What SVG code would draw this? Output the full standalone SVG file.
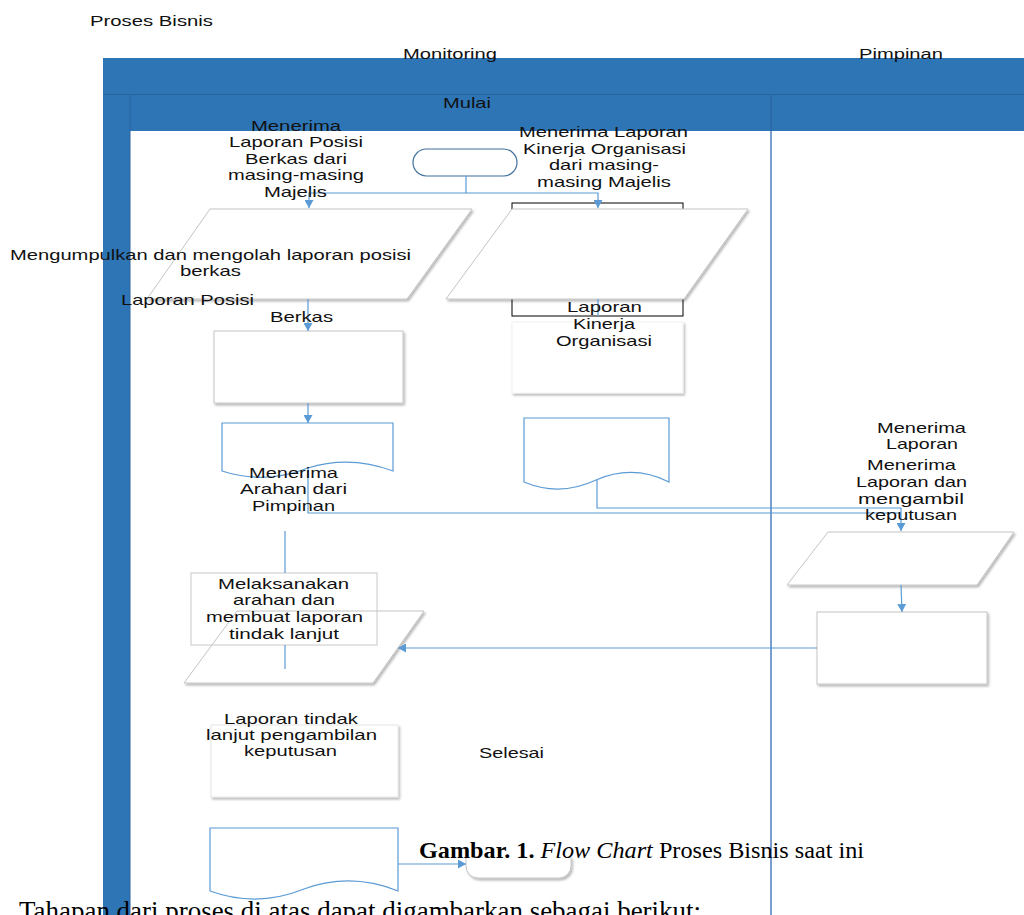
<svg xmlns="http://www.w3.org/2000/svg" width="1024" height="915" viewBox="0 0 1024 915">
<defs>
<style>
.t{font-family:"Liberation Sans",Arial,sans-serif;font-size:15px;fill:#111;}
.cap{font-family:"Liberation Serif","Times New Roman",serif;fill:#000;}
.g{fill:#fff;stroke:#c4c4c4;stroke-width:1;}
.doc{fill:#fff;stroke:#5B9BD5;stroke-width:1.2;}
.c{fill:none;stroke:#5B9BD5;stroke-width:1.2;}
.band{fill:#2E75B6;}
</style>
<filter id="sh" x="-10%" y="-10%" width="130%" height="130%">
<feDropShadow dx="1.5" dy="2" stdDeviation="1.2" flood-color="#000" flood-opacity="0.28"/>
</filter>
<marker id="arr" markerWidth="8" markerHeight="9" refX="8" refY="4.5" orient="auto" markerUnits="userSpaceOnUse">
<path d="M0,0 L8,4.5 L0,9 z" fill="#5B9BD5"/>
</marker>
</defs>
<rect width="1024" height="915" fill="#fff"/>

<g id="lanes">
<rect class="band" x="103" y="58" width="921" height="73"/>
<rect class="band" x="103" y="58" width="27" height="857"/>
<line x1="103" y1="94.5" x2="1024" y2="94.5" stroke="#2a65a0" stroke-width="1"/>
<line x1="130" y1="94.5" x2="130" y2="915" stroke="#2a65a0" stroke-width="1"/>
<line x1="771" y1="94.5" x2="771" y2="131" stroke="#2a65a0" stroke-width="1.2"/>
<line x1="771" y1="131" x2="771" y2="915" stroke="#4A7EBB" stroke-width="1.5"/>
<text class="t" x="90" y="25.5" textLength="123" lengthAdjust="spacingAndGlyphs">Proses Bisnis</text>
<text class="t" x="403" y="59" textLength="94" lengthAdjust="spacingAndGlyphs">Monitoring</text>
<text class="t" x="859" y="59" textLength="84" lengthAdjust="spacingAndGlyphs">Pimpinan</text>
</g>

<g id="start">
<rect x="413" y="149" width="104" height="27" rx="13.5" fill="#fff" stroke="#41719C" stroke-width="1.2"/>
<text class="t" x="443" y="108" textLength="48" lengthAdjust="spacingAndGlyphs">Mulai</text>
</g>

<g id="kinerja-box">
<rect x="512" y="203" width="171" height="113" fill="#fff" stroke="#000" stroke-width="1"/>
<rect x="512" y="322" width="171" height="71" fill="#fff" stroke="#f2f2f2" stroke-width="1" filter="url(#sh)"/>
</g>

<g id="para-left">
<polygon class="g" points="210,209 472,209 407,299 147,299" filter="url(#sh)"/>
</g>
<g id="para-right">
<polygon class="g" points="512,209 748,209 684,299 446,299" filter="url(#sh)"/>
</g>

<g id="rect-left">
<rect class="g" x="214" y="331" width="189" height="72" filter="url(#sh)"/>
</g>

<g id="doc-left">
<path class="doc" d="M222,471 V423 H393 V471 Q350,455 308,468 Q265,485 222,471 Z"/>
</g>
<g id="doc-right">
<path class="doc" d="M524,482 V418 H669 V482 Q633,464 596,480 Q560,497 524,482 Z"/>
</g>

<g id="para-pimpinan">
<polygon class="g" points="828,532 1014,532 977,585 787,585" filter="url(#sh)"/>
</g>
<g id="rect-pimpinan">
<rect class="g" x="817" y="612" width="170" height="72" filter="url(#sh)"/>
</g>

<g id="para-tindak">
<polygon class="g" points="237,611 424,611 373,683 184,683" filter="url(#sh)"/>
</g>
<g id="rect-melaksanakan">
<rect x="191" y="573" width="186" height="72" fill="none" stroke="#c8c8c8" stroke-width="1"/>
</g>

<g id="rect-laporan-tindak">
<rect x="211" y="725" width="187" height="72" fill="#fff" stroke="#e6e6e6" stroke-width="1" filter="url(#sh)"/>
</g>

<g id="doc-bottom">
<path class="doc" d="M210,891 V828 H398 V891 Q351,872 304,889 Q257,908 210,891 Z"/>
</g>

<g id="end">
<path d="M466,857 V866 A12,12 0 0 0 478,878 H559 A12,12 0 0 0 571,866 V857" fill="#fff" stroke="#c4c4c4" stroke-width="1" filter="url(#sh)"/>
</g>

<g id="connectors">
<path class="c" d="M466,176 V193 H309 V208" marker-end="url(#arr)"/>
<path class="c" d="M466,193 H598 V208" marker-end="url(#arr)"/>
<path class="c" d="M598,299 V316"/>
<path class="c" d="M308,299 V331" marker-end="url(#arr)"/>
<path class="c" d="M308,403 V423" marker-end="url(#arr)"/>
<path class="c" d="M308,468 V513 H900"/>
<path class="c" d="M597,480 V508 H901 V531" marker-end="url(#arr)"/>
<path class="c" d="M901,585 L902,612" marker-end="url(#arr)"/>
<path class="c" d="M817,648 H398" marker-end="url(#arr)"/>
<path class="c" d="M285,531 V573"/>
<path class="c" d="M285,645 V669"/>
<path class="c" d="M398,864 H466" marker-end="url(#arr)"/>
</g>

<g id="labels">
<text class="t" x="251" y="130.5" textLength="90" lengthAdjust="spacingAndGlyphs">Menerima</text>
<text class="t" x="229" y="147" textLength="134" lengthAdjust="spacingAndGlyphs">Laporan Posisi</text>
<text class="t" x="245" y="163.5" textLength="102" lengthAdjust="spacingAndGlyphs">Berkas dari</text>
<text class="t" x="228" y="180" textLength="136" lengthAdjust="spacingAndGlyphs">masing-masing</text>
<text class="t" x="264" y="196.5" textLength="63" lengthAdjust="spacingAndGlyphs">Majelis</text>

<text class="t" x="519" y="137" textLength="169" lengthAdjust="spacingAndGlyphs">Menerima Laporan</text>
<text class="t" x="523" y="153.5" textLength="163" lengthAdjust="spacingAndGlyphs">Kinerja Organisasi</text>
<text class="t" x="549" y="170" textLength="110" lengthAdjust="spacingAndGlyphs">dari masing-</text>
<text class="t" x="537" y="186.5" textLength="134" lengthAdjust="spacingAndGlyphs">masing Majelis</text>

<text class="t" x="10" y="259.5" textLength="401" lengthAdjust="spacingAndGlyphs">Mengumpulkan dan mengolah laporan posisi</text>
<text class="t" x="180" y="276" textLength="61" lengthAdjust="spacingAndGlyphs">berkas</text>
<text class="t" x="121" y="304.5" textLength="133" lengthAdjust="spacingAndGlyphs">Laporan Posisi</text>
<text class="t" x="270" y="322" textLength="63" lengthAdjust="spacingAndGlyphs">Berkas</text>

<text class="t" x="567" y="312" textLength="75" lengthAdjust="spacingAndGlyphs">Laporan</text>
<text class="t" x="573" y="329" textLength="62" lengthAdjust="spacingAndGlyphs">Kinerja</text>
<text class="t" x="556" y="346" textLength="96" lengthAdjust="spacingAndGlyphs">Organisasi</text>

<text class="t" x="877" y="433" textLength="89" lengthAdjust="spacingAndGlyphs">Menerima</text>
<text class="t" x="886" y="448.5" textLength="72" lengthAdjust="spacingAndGlyphs">Laporan</text>
<text class="t" x="867" y="470" textLength="89" lengthAdjust="spacingAndGlyphs">Menerima</text>
<text class="t" x="856" y="487" textLength="111" lengthAdjust="spacingAndGlyphs">Laporan dan</text>
<text class="t" x="858" y="504" textLength="106" lengthAdjust="spacingAndGlyphs">mengambil</text>
<text class="t" x="865" y="520" textLength="92" lengthAdjust="spacingAndGlyphs">keputusan</text>

<text class="t" x="249" y="477.5" textLength="89" lengthAdjust="spacingAndGlyphs">Menerima</text>
<text class="t" x="240" y="494" textLength="107" lengthAdjust="spacingAndGlyphs">Arahan dari</text>
<text class="t" x="252" y="510.5" textLength="83" lengthAdjust="spacingAndGlyphs">Pimpinan</text>

<text class="t" x="218" y="588.5" textLength="131" lengthAdjust="spacingAndGlyphs">Melaksanakan</text>
<text class="t" x="233" y="605" textLength="102" lengthAdjust="spacingAndGlyphs">arahan dan</text>
<text class="t" x="206" y="622" textLength="157" lengthAdjust="spacingAndGlyphs">membuat laporan</text>
<text class="t" x="229" y="638.5" textLength="110" lengthAdjust="spacingAndGlyphs">tindak lanjut</text>

<text class="t" x="224" y="723.5" textLength="134" lengthAdjust="spacingAndGlyphs">Laporan tindak</text>
<text class="t" x="206" y="739.5" textLength="171" lengthAdjust="spacingAndGlyphs">lanjut pengambilan</text>
<text class="t" x="244" y="756" textLength="93" lengthAdjust="spacingAndGlyphs">keputusan</text>

<text class="t" x="479" y="758" textLength="65" lengthAdjust="spacingAndGlyphs">Selesai</text>
</g>

<g id="caption">
<text class="cap" x="419" y="858" font-size="24" textLength="445" lengthAdjust="spacingAndGlyphs"><tspan font-weight="bold">Gambar. 1.</tspan> <tspan font-style="italic">Flow Chart</tspan> Proses Bisnis saat ini</text>
<text class="cap" x="19" y="920" font-size="27" textLength="682" lengthAdjust="spacingAndGlyphs">Tahapan dari proses di atas dapat digambarkan sebagai berikut:</text>
</g>
</svg>
